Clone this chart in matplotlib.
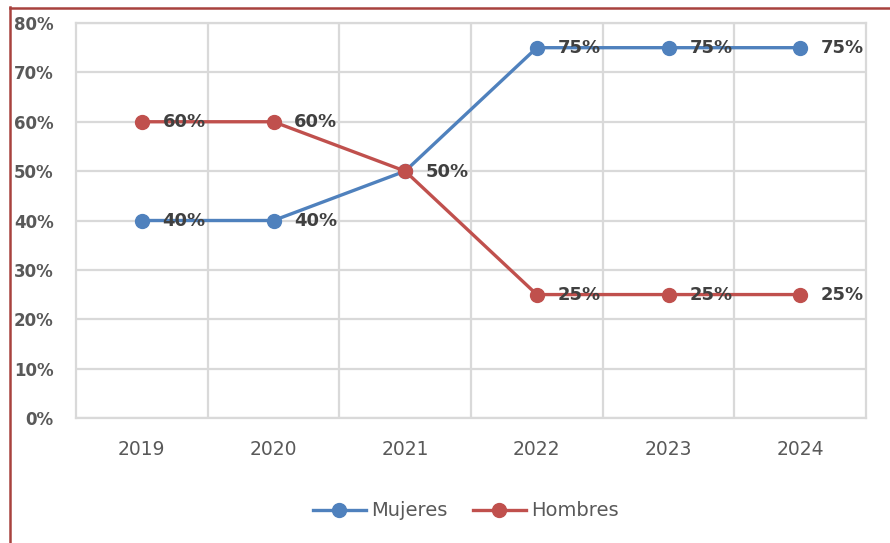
import matplotlib
matplotlib.use("Agg")
import matplotlib.pyplot as plt
from matplotlib.lines import Line2D

years = ["2019", "2020", "2021", "2022", "2023", "2024"]
mujeres = [40, 40, 50, 75, 75, 75]
hombres = [60, 60, 50, 25, 25, 25]
yticks = [0, 10, 20, 30, 40, 50, 60, 70, 80]

blue = "#4F81BD"
red = "#C0504D"
grid_c = "#D9D9D9"

plt.rcParams['font.family'] = ['DejaVu Sans']
fig = plt.figure(figsize=(8.9, 5.43), dpi=100)
ax = fig.add_axes([76/890, 1-418/543, (866-76)/890, (418-23)/543])

x = list(range(len(years)))
ax.plot(x, mujeres, color=blue, lw=2.4, marker="o", ms=10, label="Mujeres", zorder=3)
ax.plot(x, hombres, color=red, lw=2.4, marker="o", ms=10, label="Hombres", zorder=3)

# data labels (2021 overlapping point labelled once)
for i, v in enumerate(mujeres):
    ax.annotate(f"{v}%", (i, v), xytext=(15, -0.5), textcoords="offset points",
                ha="left", va="center", fontsize=13, fontweight="bold",
                color="#404040", zorder=5)
for i, v in enumerate(hombres):
    if v == mujeres[i]:
        continue
    ax.annotate(f"{v}%", (i, v), xytext=(15, -0.5), textcoords="offset points",
                ha="left", va="center", fontsize=13, fontweight="bold",
                color="#404040", zorder=5)

ax.set_xlim(-0.5, len(years) - 0.5)
ax.set_ylim(0, 80)
ax.set_yticks(yticks)
ax.set_yticklabels([f"{t}%" for t in yticks], fontsize=12, fontweight="bold", color="#595959")
ax.set_xticks(x)
ax.set_xticklabels(years, fontsize=13.5, color="#595959")
ax.tick_params(axis="both", length=0)
ax.tick_params(axis="y", pad=16)
ax.tick_params(axis="x", pad=16)

for t in yticks:
    ax.axhline(t, color=grid_c, lw=1.6, zorder=1)
for b in [i + 0.5 for i in range(len(years) - 1)]:
    ax.axvline(b, color=grid_c, lw=1.6, zorder=1)
for s in ax.spines.values():
    s.set_color(grid_c)
    s.set_linewidth(1.6)

leg = fig.legend(loc="center", bbox_to_anchor=(466/890, 1-511/543), ncol=2, frameon=False,
                 fontsize=14, handlelength=2.7, columnspacing=1.3, handletextpad=0.3)
for t in leg.get_texts():
    t.set_color("#595959")

# outer red border (left and top)
fig.add_artist(Line2D([9.5/890, 9.5/890], [0, 1-7/543], color="#A8423E", lw=1.8,
                      transform=fig.transFigure))
fig.add_artist(Line2D([9.5/890, 1], [1-7.5/543, 1-7.5/543], color="#A8423E", lw=1.8,
                      transform=fig.transFigure))

fig.savefig("out.png", dpi=100)
